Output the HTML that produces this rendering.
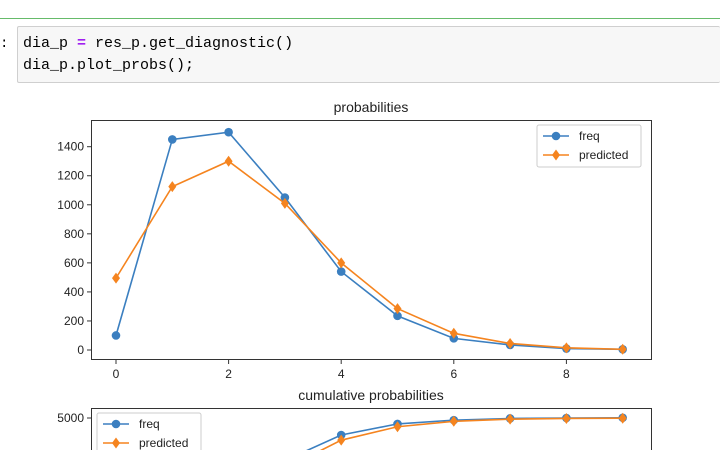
<!DOCTYPE html>
<html><head><meta charset="utf-8"><style>
body{margin:0;width:720px;height:450px;overflow:hidden;background:#fff;font-family:"Liberation Sans",sans-serif;position:relative}
.code{position:absolute;left:17px;top:26px;width:703px;height:57px;background:#f7f7f7;border:1px solid #cfcfcf;border-right:none;border-radius:2px;box-sizing:border-box}
.code pre{margin:0;position:absolute;left:5px;top:6px;font-family:"Liberation Mono","DejaVu Sans Mono",monospace;font-size:15px;line-height:22px;color:#000}
</style></head><body>
<div style="position:absolute;left:0;top:18px;width:720px;height:1px;background:#66bb6a"></div>
<div style="position:absolute;left:0;top:36px;font-family:'Liberation Mono',monospace;font-size:14px">:</div>
<div class="code"><pre>dia_p <span style="color:#a020f0;font-weight:bold">=</span> res_p.get_diagnostic()
dia_p.plot_probs();</pre></div>
<svg id="chart" width="720" height="450" style="position:absolute;left:0;top:0;overflow:hidden">
</svg>
<script>
const cats=[0,1,2,3,4,5,6,7,8,9];
const freq=[100,1450,1500,1050,540,235,80,35,10,5];
const pred=[495,1125,1300,1010,600,285,115,45,15,5];
const yTicks=[0,200,400,600,800,1000,1200,1400];
const xTicks=[0,2,4,6,8];
const cumTicks=[5000];
const svg=document.getElementById('chart');
const NS='http://www.w3.org/2000/svg';
function mk(t,a,p){const e=document.createElementNS(NS,t);for(const k in a)e.setAttribute(k,a[k]);(p||svg).appendChild(e);return e;}
const X=v=>116+v*56.3;
const Y=v=>350-v*(203.3/1400);
const cum=a=>{let s=0;return a.map(v=>s+=v);};
const cf=cum(freq),cp=cum(pred);
const Y2=v=>418-(v-5000)*0.0472;
let g=mk('g',{});


let t=mk('text',{x:371,y:112,'text-anchor':'middle','font-size':14,fill:'#222'},g);t.textContent='probabilities';

mk('rect',{x:91.5,y:120.5,width:560,height:239,fill:'none',stroke:'#333'},g);
yTicks.forEach(v=>{mk('line',{x1:87,x2:91,y1:Y(v),y2:Y(v),stroke:'#333'},g);const e=mk('text',{x:84,y:Y(v)+4,'text-anchor':'end','font-size':12,fill:'#222'},g);e.textContent=v;
});
xTicks.forEach(v=>{mk('line',{x1:X(v),x2:X(v),y1:360,y2:364,stroke:'#333'},g);const e=mk('text',{x:X(v),y:378,'text-anchor':'middle','font-size':12,fill:'#222'},g);e.textContent=v;
});
function series(vals,yf,col,marker,name,par){
 const p=mk('polyline',{points:vals.map((v,i)=>X(cats[i])+','+yf(v)).join(' '),fill:'none',stroke:col,'stroke-width':1.6},par);
 
 vals.forEach((v,i)=>{const x=X(cats[i]),y=yf(v);let m;
  if(marker==='o')m=mk('circle',{cx:x,cy:y,r:4.3,fill:col},par);
  else m=mk('polygon',{points:`${x},${y-5.5} ${x+4},${y} ${x},${y+5.5} ${x-4},${y}`,fill:col},par);
  });
}
series(freq,Y,'#3b7fc0','o','freq',g);
series(pred,Y,'#f5841f','d','predicted',g);
function legend(x,y,par){
 const lg=mk('g',{},par);
 mk('rect',{x:x,y:y,width:104,height:42,fill:'#fff',stroke:'#ccc',rx:2},lg);
 [['freq','#3b7fc0','o'],['predicted','#f5841f','d']].forEach((d,i)=>{const yy=y+11+i*19;
  mk('line',{x1:x+6,x2:x+32,y1:yy,y2:yy,stroke:d[1],'stroke-width':1.6},lg);
  if(d[2]==='o')mk('circle',{cx:x+19,cy:yy,r:4.3,fill:d[1]},lg);else mk('polygon',{points:`${x+19},${yy-5.5} ${x+23},${yy} ${x+19},${yy+5.5} ${x+15},${yy}`,fill:d[1]},lg);
  const e=mk('text',{x:x+42,y:yy+4,'font-size':12,fill:'#222'},lg);e.textContent=d[0];
  });
}
legend(537,125,g);
let g2=mk('g',{});


t=mk('text',{x:371,y:400,'text-anchor':'middle','font-size':14,fill:'#222'},g2);t.textContent='cumulative probabilities';

mk('path',{d:'M91.5,450 V408.5 H651.5 V450',fill:'none',stroke:'#333'},g2);
cumTicks.forEach(v=>{mk('line',{x1:87,x2:91,y1:Y2(v),y2:Y2(v),stroke:'#333'},g2);const e=mk('text',{x:84,y:Y2(v)+4,'text-anchor':'end','font-size':12,fill:'#222'},g2);e.textContent=v;
});
series(cf,Y2,'#3b7fc0','o','cum-freq',g2);
series(cp,Y2,'#f5841f','d','cum-predicted',g2);
legend(97,413,g2);
</script>
</body></html>
